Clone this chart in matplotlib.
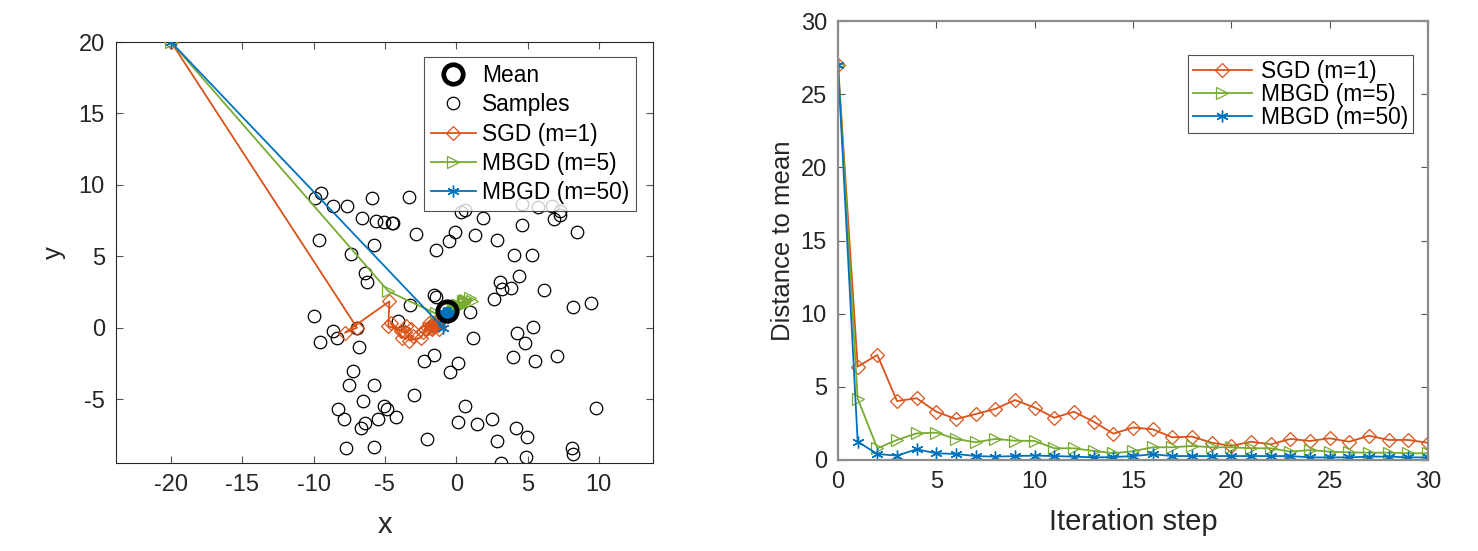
import matplotlib
matplotlib.use("Agg")
import matplotlib.pyplot as plt
import numpy as np

plt.rcParams['font.family'] = ['Liberation Sans', 'DejaVu Sans']
plt.rcParams['axes.unicode_minus'] = False

# ---------------- data ----------------
sample_x = [-9.5, -9.9, -5.93, -3.29, -8.62, -7.64, -6.63, -5.62, -5.06, -4.52, -4.4, -9.6, -2.82,
            -5.74, -7.4, -6.4, -6.23, -1.42, -0.5, -0.1, 0.35, 0.6, -9.97, -3.24, -1.56, -1.42,
            1.9, 4.59, 5.71, 6.7, 7.28, 6.88, 7.28, 4.59, 8.5, 1.32, 2.84, 4.07, 5.34, 4.4, 3.07,
            3.19, 3.84, 6.18, 2.67, 8.2, 9.45, 0.97, 1.2, 4.24, 5.36, 4.82, 4.0, 5.52, 7.07, 0.1,
            0.62, 0.12, 1.44, 2.53, 4.19, 4.94, 2.84, 9.78, 8.1, 8.22, 4.89, 3.12, -8.62, -8.38,
            -9.55, -6.8, -6.98, -2.26, -1.53, -0.43, -7.26, -7.5, -5.74, -2.94, -6.56, -8.31,
            -7.87, -5.04, -4.83, -4.22, -5.46, -6.4, -6.7, -7.73, -5.76, -2.03, -4.07]
sample_y = [9.45, 9.1, 9.1, 9.14, 8.5, 8.55, 7.69, 7.46, 7.39, 7.34, 7.36, 6.17, 6.57,
            5.82, 5.19, 3.83, 3.2, 5.47, 6.1, 6.72, 8.13, 8.27, 0.84, 1.61, 2.31, 2.12,
            7.69, 7.22, 8.46, 8.5, 8.16, 7.62, 7.92, 8.67, 6.69, 6.48, 6.17, 5.07, 5.07, 3.6, 3.2,
            2.73, 2.78, 2.66, 2.01, 1.43, 1.73, 1.12, -0.72, -0.37, 0.05, -1.07, -2.08, -2.36, -2.01, -2.48,
            -5.47, -6.61, -6.73, -6.38, -7.03, -7.67, -7.92, -5.63, -8.44, -8.84, -9.02, -9.47, -0.21, -0.72,
            -1.03, -1.32, 0.0, -2.36, -1.89, -3.13, -3.01, -4.0, -4.04, -4.7, -5.1, -5.7,
            -6.41, -5.47, -5.7, -6.26, -6.36, -6.69, -7.04, -8.39, -8.37, -7.78, 0.5]

mean_x = [-0.65]
mean_y = [1.2]

sgd_x = [-20, -6.96, -7.8, -4.69, -4.76, -3.6, -3.2, -3.5, -3.9, -4.6, -3.8, -3.0, -3.3, -2.5, -2.0,
         -2.3, -2.2, -1.9, -1.8, -1.5, -1.3, -1.6, -1.3, -1.7, -1.5, -1.6, -1.4, -1.7, -1.5, -1.2, -1.3]
sgd_y = [20, 0.0, -0.35, 1.84, 0.1, -0.3, -0.1, 0.1, -0.2, 0.3, -0.7, -0.6, -0.9, -0.7, 0.0,
         -0.3, -0.1, 0.3, 0.0, 0.4, 0.5, 0.3, 0.3, 0.2, 0.2, 0.1, 0.2, -0.1, 0.1, -0.1, 0.2]

mb5_x = [-20, -4.76, -1.45, 0.55, 1.0, 1.1, 0.6, 0.45, 0.65, 0.55, 0.45, 0.05, 0.1, -0.1, -0.25,
         -0.1, 0.1, 0.15, 0.25, 0.1, 0.15, 0.05, 0.1, -0.15, -0.05, -0.15, -0.2, -0.2, -0.15, -0.25, -0.2]
mb5_y = [20, 2.55, 1.0, 1.8, 2.05, 1.9, 1.95, 1.75, 1.85, 1.7, 1.85, 1.6, 1.45, 1.5, 1.4,
         1.45, 1.6, 1.5, 1.55, 1.55, 1.6, 1.55, 1.45, 1.45, 1.5, 1.5, 1.45, 1.4, 1.4, 1.35, 1.35]

mb50_x = [-20, -0.9, -0.85, -0.75, -0.95, -0.8, -0.5, -0.75, -0.55, -0.8, -0.45, -0.7, -0.5, -0.6, -0.75,
          -0.55, -0.95, -0.6, -0.8, -0.5, -0.85, -0.45, -0.7, -0.55, -0.7, -0.6, -0.75, -0.5, -0.8, -0.6, -0.68]
mb50_y = [20, -0.02, 0.85, 0.92, 0.55, 0.77, 0.82, 0.95, 1.0, 0.98, 1.0, 0.94, 1.03, 1.03, 1.0,
          0.95, 1.0, 0.94, 0.98, 0.98, 1.05, 1.05, 0.94, 0.97, 1.03, 1.03, 1.05, 1.03, 1.03, 1.03, 1.02]

steps = list(range(31))
dist_sgd = [27.0, 6.38, 7.18, 4.03, 4.22, 3.3, 2.8, 3.14, 3.49, 4.1, 3.58, 2.89, 3.3, 2.62, 1.8,
            2.22, 2.1, 1.55, 1.6, 1.18, 0.96, 1.25, 1.07, 1.44, 1.3, 1.48, 1.25, 1.66, 1.37, 1.37, 1.18]
dist_mb5 = [27.0, 4.2, 0.8, 1.37, 1.82, 1.87, 1.44, 1.21, 1.44, 1.32, 1.3, 0.8, 0.8, 0.62, 0.46,
            0.6, 0.87, 0.87, 0.96, 0.87, 0.87, 0.8, 0.8, 0.57, 0.68, 0.57, 0.52, 0.5, 0.5, 0.46, 0.46]
dist_mb50 = [27.0, 1.25, 0.41, 0.3, 0.73, 0.46, 0.41, 0.27, 0.23, 0.27, 0.3, 0.27, 0.23, 0.18, 0.2,
             0.27, 0.39, 0.27, 0.27, 0.27, 0.27, 0.27, 0.27, 0.27, 0.18, 0.18, 0.18, 0.23, 0.23, 0.18, 0.18]

labels = ['SGD (m=1)', 'MBGD (m=5)', 'MBGD (m=50)']

# ---------------- style ----------------
C_ORANGE = '#D95319'
C_GREEN = '#77AC30'
C_BLUE = '#0072BD'
AX_COL = '#262626'
ASTER = (6, 2, 0)
FS_TICK = 17
FS_XLAB = 21
FS_YLAB = 18.5
FS_LEG = 16.4

fig = plt.figure(figsize=(14.78, 5.51), dpi=100)

def style_axes(ax, spine_col, spine_w):
    for s in ax.spines.values():
        s.set_color(spine_col)
        s.set_linewidth(spine_w)
    ax.tick_params(direction='in', length=5, width=0.8, color='#555555',
                   labelsize=FS_TICK, labelcolor=AX_COL, top=True, right=True)
    ax.tick_params(axis='x', pad=8)
    ax.tick_params(axis='y', pad=8)

mk = dict(mfc='none', lw=1.3)

# ---- left ----
ax1 = fig.add_axes([116/1478, 1-463/551, (653-116)/1478, (463-42)/551])
ax1.plot(sample_x, sample_y, 'o', ls='none', mfc='none', mec='black', ms=9, mew=0.9,
         label='Samples', zorder=2)
ax1.plot(sgd_x, sgd_y, '-', color=C_ORANGE, marker='D', ms=7, mew=0.9, label=labels[0], zorder=3, **mk)
ax1.plot(mb5_x, mb5_y, '-', color=C_GREEN, marker='>', ms=8.5, mew=0.9, label=labels[1], zorder=4, **mk)
ax1.plot(mb50_x, mb50_y, '-', color=C_BLUE, marker=ASTER, ms=8.5, mew=1.0, label=labels[2], zorder=5, **mk)
ax1.plot(mean_x, mean_y, 'o', ls='none', mfc='none', mec='black', ms=14, mew=3.4,
         label='Mean', zorder=6)
ax1.set_xlim(-23.86, 13.8)
ax1.set_ylim(-9.47, 20)
ax1.set_xticks([-20, -15, -10, -5, 0, 5, 10])
ax1.set_yticks([-5, 0, 5, 10, 15, 20])
ax1.set_xlabel('x', fontsize=FS_XLAB, color=AX_COL, labelpad=11)
ax1.set_ylabel('y', fontsize=FS_YLAB, color=AX_COL, labelpad=9)
style_axes(ax1, '#262626', 0.8)
h, l = ax1.get_legend_handles_labels()
order = [4, 0, 1, 2, 3]
leg1 = ax1.legend([h[i] for i in order], [l[i] for i in order], loc='upper right',
                  bbox_to_anchor=((636-116)/537, (463-57)/421), fontsize=FS_LEG,
                  frameon=True, fancybox=False, edgecolor='#262626', handlelength=2.0,
                  borderpad=0.3, labelspacing=0.28, handletextpad=0.25, borderaxespad=0)
leg1.get_frame().set_linewidth(0.8)

# ---- right ----
ax2 = fig.add_axes([838/1478, 1-460/551, (1428-838)/1478, (460-21)/551])
ax2.plot(steps, dist_sgd, '-', color=C_ORANGE, marker='D', ms=7, mew=0.9, label=labels[0], **mk)
ax2.plot(steps, dist_mb5, '-', color=C_GREEN, marker='>', ms=8.5, mew=0.9, label=labels[1], **mk)
ax2.plot(steps, dist_mb50, '-', color=C_BLUE, marker=ASTER, ms=8.5, mew=1.0, label=labels[2], **mk)
ax2.set_xlim(0, 30)
ax2.set_ylim(0, 30)
ax2.set_xticks(range(0, 31, 5))
ax2.set_yticks(range(0, 31, 5))
ax2.set_xlabel('Iteration step', fontsize=FS_XLAB, color=AX_COL, labelpad=11)
ax2.set_ylabel('Distance to mean', fontsize=FS_YLAB, color=AX_COL, labelpad=4)
style_axes(ax2, '#8c8c8c', 1.6)
leg2 = ax2.legend(loc='upper right', bbox_to_anchor=((1413-838)/590, (460-55)/439),
                  fontsize=FS_LEG, frameon=True, fancybox=False, edgecolor='#262626',
                  handlelength=2.6, borderpad=0.2, labelspacing=0.0, handletextpad=0.4,
                  borderaxespad=0)
leg2.get_frame().set_linewidth(0.8)

fig.savefig('out.png', dpi=100)
